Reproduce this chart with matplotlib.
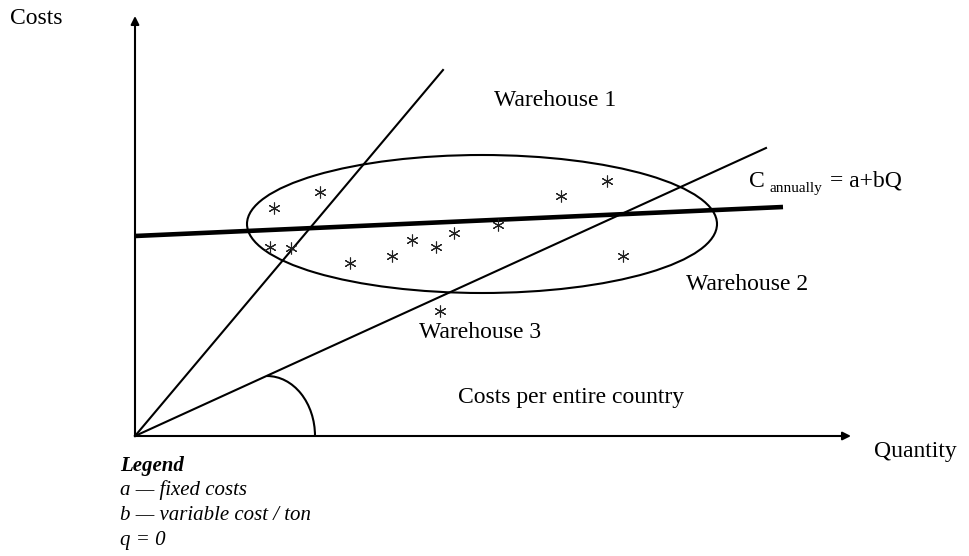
import matplotlib
matplotlib.use("Agg")
import matplotlib.pyplot as plt
from matplotlib.patches import Ellipse, Arc
import numpy as np

plt.rcParams['font.family'] = ['Liberation Serif', 'DejaVu Serif']

# Data (units: chart quantity / cost units, origin at axis crossing)
wh1_slope = 366 / 308          # Warehouse 1 cost line through origin
wh1_qmax = 308
wh2_slope = 288 / 631          # Warehouse 2 cost line through origin
wh2_qmax = 631
annual_a = 200                 # fixed costs (intercept)
annual_b = 29 / 648            # variable cost per unit
annual_qmax = 648
obs_q = [139, 185, 135, 156, 215, 257, 277, 301, 319, 363, 426, 472, 488, 305]
obs_c = [228, 244, 189, 188, 173, 180, 196, 189, 203, 211, 240, 255, 180, 125]
cluster_center = (347, 212)
cluster_size = (470, 138)

fig = plt.figure(figsize=(9.69, 5.56), dpi=100)
ax = fig.add_axes([0, 0, 1, 1])
ax.set_xlim(-135, 834)
ax.set_ylim(-120, 436)
ax.axis('off')

lw = 1.5
# axes arrows
ax.annotate('', xy=(0, 420), xytext=(0, 0),
            arrowprops=dict(arrowstyle='-|>', lw=lw, color='black',
                            mutation_scale=12, shrinkA=0, shrinkB=0))
ax.annotate('', xy=(716, 0), xytext=(0, 0),
            arrowprops=dict(arrowstyle='-|>', lw=lw, color='black',
                            mutation_scale=12, shrinkA=0, shrinkB=0))

q1 = np.array([0, wh1_qmax])
ax.plot(q1, wh1_slope * q1, color='black', lw=lw)
q2 = np.array([0, wh2_qmax])
ax.plot(q2, wh2_slope * q2, color='black', lw=lw)
q3 = np.array([0, annual_qmax])
ax.plot(q3, annual_a + annual_b * q3, color='black', lw=3.3, solid_capstyle='butt')

ax.add_patch(Ellipse(cluster_center, cluster_size[0], cluster_size[1],
                     fill=False, ec='black', lw=lw))
ax.add_patch(Arc((132, 0), 96, 120, theta1=0, theta2=90, ec='black', lw=lw))

ax.plot(obs_q, obs_c, linestyle='none', marker=(6, 2, 0), markersize=8.5,
        markeredgewidth=0.8, color='#222222')

fs = 17
ax.text(-99, 418, 'Costs', fontsize=fs, ha='center', va='center')
ax.text(780, -16, 'Quantity', fontsize=fs, ha='center', va='center')
ax.text(420, 336, 'Warehouse 1', fontsize=fs, ha='center', va='center')
ax.text(612, 152, 'Warehouse 2', fontsize=fs, ha='center', va='center')
ax.text(345, 103, 'Warehouse 3', fontsize=fs, ha='center', va='center')
ax.text(436, 39, 'Costs per entire country', fontsize=fs, ha='center', va='center')

ax.text(614, 249, 'C', fontsize=fs, ha='left', va='baseline')
ax.text(635, 244, 'annually', fontsize=11, ha='left', va='baseline')
ax.text(695, 249, '= a+bQ', fontsize=fs, ha='left', va='baseline')

lfs = 15
ax.text(-15, -30, 'Legend', fontsize=lfs, ha='left', va='center',
        style='italic', weight='bold')
ax.text(-15, -54, 'a — fixed costs', fontsize=lfs, ha='left', va='center', style='italic')
ax.text(-15, -79, 'b — variable cost / ton', fontsize=lfs, ha='left', va='center', style='italic')
ax.text(-15, -104, 'q = 0', fontsize=lfs, ha='left', va='center', style='italic')

fig.savefig('out.png', dpi=100)
